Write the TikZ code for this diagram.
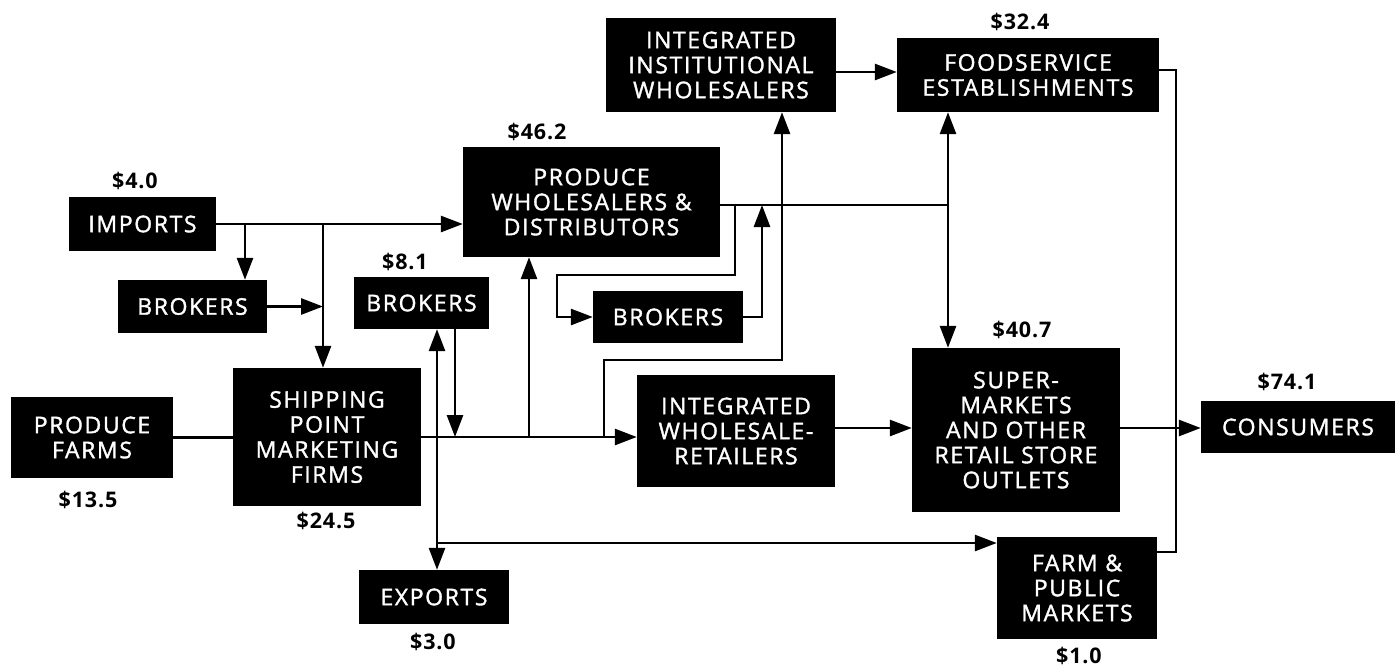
\documentclass[tikz,border=0pt]{standalone}
\usepackage{fontspec}
\setmainfont{Open Sans}[LetterSpace=4]
\newfontfamily\boxfont{Open Sans}[LetterSpace=7,FakeBold=1.5]
\usetikzlibrary{arrows.meta}
\begin{document}
\begin{tikzpicture}[x=1pt,y=-1pt,
  box/.style={fill=black,text=white,inner sep=0pt,align=center,font=\boxfont\fontsize{23}{25}\selectfont},
  lbl/.style={font=\bfseries\fontsize{21.5}{24}\selectfont,inner sep=0pt},
  ln/.style={line width=2.8pt},
  arr/.style={ln,-{Triangle[length=22pt,width=16pt]}},
  darr/.style={ln,{Triangle[length=22pt,width=16pt]}-{Triangle[length=22pt,width=16pt]}}]
\useasboundingbox (0,0) rectangle (1398,667);
% boxes
\node[box,minimum width=147pt,minimum height=54pt] (imports) at (142.5,224) {IMPORTS};
\node[box,minimum width=149pt,minimum height=53pt] (brk1) at (192.5,306.5) {BROKERS};
\node[box,minimum width=135pt,minimum height=52pt] (brk2) at (421.5,303) {BROKERS};
\node[box,minimum width=257pt,minimum height=110pt] (pwd) at (591.5,202) {PRODUCE\\WHOLESALERS \&\\DISTRIBUTORS};
\node[box,minimum width=150pt,minimum height=52pt] (brk3) at (668,317) {BROKERS};
\node[box,minimum width=230pt,minimum height=94pt] (iiw) at (721,65) {INTEGRATED\\INSTITUTIONAL\\WHOLESALERS};
\node[box,minimum width=262pt,minimum height=74pt] (food) at (1028,75) {FOODSERVICE\\ESTABLISHMENTS};
\node[box,minimum width=162pt,minimum height=81pt] (farms) at (92,437.5) {PRODUCE\\FARMS};
\node[box,minimum width=188pt,minimum height=138pt] (ship) at (327,437) {SHIPPING\\POINT\\MARKETING\\FIRMS};
\node[box,minimum width=198pt,minimum height=112pt] (iwr) at (736,431) {INTEGRATED\\WHOLESALE-\\RETAILERS};
\node[box,minimum width=208pt,minimum height=164pt] (super) at (1016,430) {SUPER-\\MARKETS\\AND OTHER\\RETAIL STORE\\OUTLETS};
\node[box,minimum width=194pt,minimum height=52pt] (cons) at (1298,427) {CONSUMERS};
\node[box,minimum width=160pt,minimum height=102pt] (farmpub) at (1077,588) {FARM \&\\PUBLIC\\MARKETS};
\node[box,minimum width=150pt,minimum height=54pt] (exports) at (434,597) {EXPORTS};
% labels
\node[lbl] (l1) at (135,181) {\$4.0};
\node[lbl] (l2) at (405,262) {\$8.1};
\node[lbl] (l3) at (537,132) {\$46.2};
\node[lbl] (l4) at (1020,22) {\$32.4};
\node[lbl] (l5) at (1022,330) {\$40.7};
\node[lbl] (l6) at (1287,382) {\$74.1};
\node[lbl] (l7) at (88,500) {\$13.5};
\node[lbl] (l8) at (326,521) {\$24.5};
\node[lbl] (l9) at (433,642) {\$3.0};
\node[lbl] (l10) at (1079,656) {\$1.0};
% connectors
\draw[ln] (farms.east) -- (farms.east -| ship.west);
\draw[arr] (imports.east) -- (imports.east -| pwd.west);
\draw[arr] (245,224) -- (245,0 |- brk1.north);
\draw[arr] (323,224) -- (323,0 |- ship.north);
\draw[arr] (brk1.east) -- (brk1.east -| 323,0);
\draw[arr] (ship.east) -- (ship.east -| iwr.west);
\draw[darr] (brk2.south -| 437,0) -- (exports.north -| 437,0);
\draw[arr] (437,543) -- (farmpub.west |- 0,543);
\draw[arr] (brk2.south -| 455,0) -- (455,437);
\draw[arr] (529,437) -- (529,0 |- pwd.south);
\draw[arr] (604,437) |- (782,360) -- (782,0 |- iiw.south);
\draw[arr] (iiw.east |- 0,72) -- (food.west |- 0,72);
\draw[ln] (pwd.east |- 0,205) -- (948,205);
\draw[darr] (948,0 |- food.south) -- (948,0 |- super.north);
\draw[arr] (735,205) |- (557,275) |- (brk3.west);
\draw[arr] (brk3.east) -| (762,205);
\draw[arr] (iwr.east |- 0,428) -- (super.west |- 0,428);
\draw[arr] (super.east |- 0,428) -- (cons.west |- 0,428);
\draw[ln] (food.east |- 0,70) -| (1176,552) -- (farmpub.east |- 0,552);
\end{tikzpicture}
\end{document}
